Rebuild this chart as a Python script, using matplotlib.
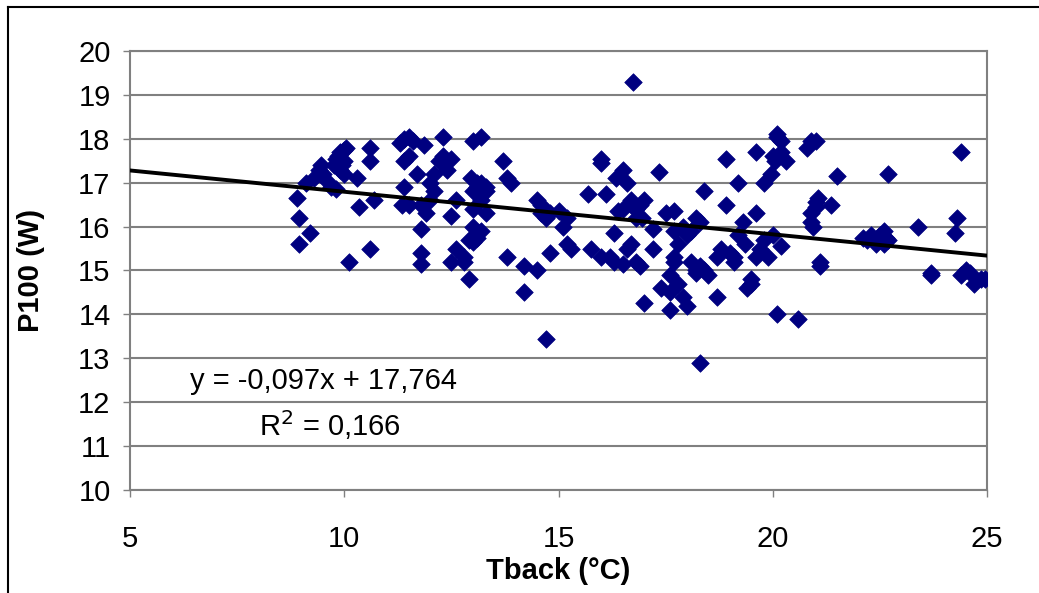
import matplotlib
matplotlib.use("Agg")
import matplotlib.pyplot as plt
from matplotlib.lines import Line2D

plt.rcParams['font.family'] = ['Liberation Sans', 'DejaVu Sans']

tback = [
    8.9, 8.95, 8.95, 9.2, 9.1, 9.3, 9.4, 9.45, 9.5, 9.6, 9.7, 9.8, 9.85, 9.9, 10.0, 10.05,
    9.95, 9.9, 10.0, 10.1, 9.8, 10.3, 10.35, 10.6, 10.6, 10.6, 10.7, 10.0, 9.75,
    11.3, 11.4, 11.5, 11.6, 11.4, 11.5, 11.4, 11.35, 11.5, 11.7, 11.8, 11.8, 11.8, 11.8,
    11.9, 12.0, 11.85, 12.0, 12.1, 12.1, 12.2, 12.3, 12.3, 12.4, 12.5, 12.5, 12.5, 12.6,
    12.6, 12.8, 12.8, 12.9, 12.9, 13.0, 13.0, 12.95, 13.0, 13.1, 13.0, 13.2, 13.2, 13.3,
    13.2, 13.3, 13.2, 13.1, 13.3, 13.0, 13.1,
    13.7, 13.8, 13.9, 13.8, 14.2, 14.2, 14.5, 14.5, 14.6, 14.6, 14.7, 14.7, 14.8, 14.8,
    15.0, 15.1, 15.2, 15.3, 15.2,
    15.7, 15.75, 16.0, 16.0, 16.0, 16.1, 16.2, 16.3, 16.35, 16.3, 16.4, 16.5, 16.5, 16.5,
    16.6, 16.6, 16.7, 16.7, 16.7, 16.75, 16.8, 16.8, 16.8, 16.9, 16.9, 16.95, 17.0, 17.0,
    17.2, 17.2, 17.35, 17.4,
    17.5, 17.6, 17.6, 17.6, 17.7, 17.7, 17.7, 17.7, 17.8, 17.8, 17.9, 17.9, 18.0, 18.0,
    18.1, 18.1, 18.2, 18.2, 18.2, 18.3, 18.3, 18.3, 18.4, 18.4, 18.5, 18.7, 18.7, 18.8,
    18.9, 18.9,
    19.0, 19.1, 19.1, 19.2, 19.2, 19.3, 19.35, 19.4, 19.5, 19.5, 19.6, 19.6, 19.6, 19.7,
    19.8, 19.8, 19.9, 19.95, 20.0, 20.0, 20.05, 20.1, 20.1, 20.1, 20.2, 20.2, 20.2, 20.3,
    20.6,
    20.8, 20.9, 21.0, 20.9, 20.9, 21.0, 21.05, 21.0, 20.95, 21.1, 21.1, 21.35, 21.5,
    22.1, 22.2, 22.3, 22.4, 22.5, 22.5, 22.6, 22.65, 22.7, 22.7, 22.4, 22.6,
    23.4, 23.7, 23.7, 24.25, 24.3, 24.4, 24.4, 24.5, 24.6, 24.7, 24.85, 24.95,
]
p100 = [
    16.65, 16.2, 15.6, 15.85, 17.0, 17.1, 17.3, 17.4, 17.2, 17.05, 16.9, 17.55, 17.6, 17.7, 17.75, 17.8,
    17.4, 17.3, 17.2, 15.2, 16.85, 17.1, 16.45, 17.8, 17.5, 15.5, 16.6, 17.5, 17.4,
    17.9, 18.0, 18.05, 17.95, 17.5, 17.6, 16.9, 16.5, 16.5, 17.2, 16.5, 15.95, 15.4, 15.15,
    16.3, 16.6, 17.85, 17.0, 17.2, 16.8, 17.5, 17.6, 18.05, 17.3, 17.55, 16.25, 15.2, 15.5,
    16.6, 15.3, 15.2, 14.8, 15.7, 16.0, 16.4, 17.1, 16.8, 16.9, 17.95, 18.05, 17.0, 16.8,
    16.6, 16.3, 15.9, 17.0, 16.9, 15.65, 15.75,
    17.5, 17.1, 17.0, 15.3, 15.1, 14.5, 16.6, 15.0, 16.3, 16.5, 16.2, 13.45, 16.3, 15.4,
    16.35, 16.0, 15.6, 15.5, 16.2,
    16.75, 15.5, 17.55, 17.45, 15.3, 16.75, 15.3, 15.85, 17.1, 15.2, 16.35, 16.4, 17.3, 15.15,
    17.0, 15.5, 16.5, 16.6, 15.6, 19.3, 16.4, 16.2, 15.2, 15.1, 16.5, 16.2, 14.25, 16.6,
    15.95, 15.5, 17.25, 14.6,
    16.3, 14.9, 14.5, 14.1, 16.35, 15.9, 15.3, 15.2, 14.7, 15.6, 16.0, 14.4, 15.8, 14.2,
    15.2, 15.9, 16.2, 14.95, 15.0, 15.1, 16.1, 12.9, 16.8, 15.0, 14.9, 14.4, 15.3, 15.5,
    16.5, 17.55,
    15.4, 15.3, 15.2, 17.0, 15.8, 16.1, 15.6, 14.6, 14.7, 14.8, 15.3, 16.3, 17.7, 15.5,
    17.0, 15.7, 15.3, 17.2, 17.6, 15.8, 17.5, 18.1, 18.05, 14.0, 17.95, 17.7, 15.55, 17.5,
    13.9,
    17.8, 17.95, 17.95, 16.3, 16.1, 16.55, 16.65, 16.45, 16.0, 15.2, 15.1, 16.5, 17.15,
    15.75, 15.7, 15.8, 15.65, 15.8, 15.7, 15.9, 15.75, 15.7, 17.2, 15.6, 15.6,
    16.0, 14.9, 14.95, 15.85, 16.2, 17.7, 14.9, 15.0, 14.95, 14.7, 14.8, 14.8,
]

slope = -0.097
intercept = 17.764
trend_x = [5, 25]
x_ticks = [5, 10, 15, 20, 25]
y_ticks = [10, 11, 12, 13, 14, 15, 16, 17, 18, 19, 20]

fs = 21

fig = plt.figure(figsize=(10.39, 5.93), dpi=100)
ax = fig.add_axes([130 / 1039, 1 - 490 / 593, 857 / 1039, 439 / 593])

ax.scatter(tback, p100, marker='D', s=80, color='#000080', edgecolors='#000080',
           linewidths=0.5, zorder=3)
ax.plot(trend_x, [slope * x + intercept for x in trend_x], color='black', lw=2.8, zorder=4)

ax.set_xlim(5, 25)
ax.set_ylim(10, 20)
ax.set_xticks(x_ticks)
ax.set_yticks(y_ticks)
ax.tick_params(axis='both', labelsize=fs, direction='out', length=5, color='#808080', width=1)
ax.tick_params(axis='x', pad=20)
ax.tick_params(axis='y', pad=9)
ax.grid(axis='y', color='#808080', lw=1.5)
ax.set_axisbelow(True)
for s in ax.spines.values():
    s.set_color('#808080')
    s.set_linewidth(1.5)

ax.set_xlabel('Tback (°C)', fontsize=fs, fontweight='bold', labelpad=3)
ax.set_ylabel('P100 (W)', fontsize=fs, fontweight='bold', labelpad=24)

ax.text(6.4, 12.48, 'y = -0,097x + 17,764', fontsize=fs, va='center', ha='left')
ax.text(8.0, 11.48, 'R$^2$ = 0,166', fontsize=fs, va='center', ha='left')

fig.add_artist(Line2D([8 / 1039, 8 / 1039], [0, 1 - 7 / 593], color='black', lw=1.5))
fig.add_artist(Line2D([8 / 1039, 1], [1 - 7 / 593, 1 - 7 / 593], color='black', lw=1.5))

fig.savefig('out.png', dpi=100)
